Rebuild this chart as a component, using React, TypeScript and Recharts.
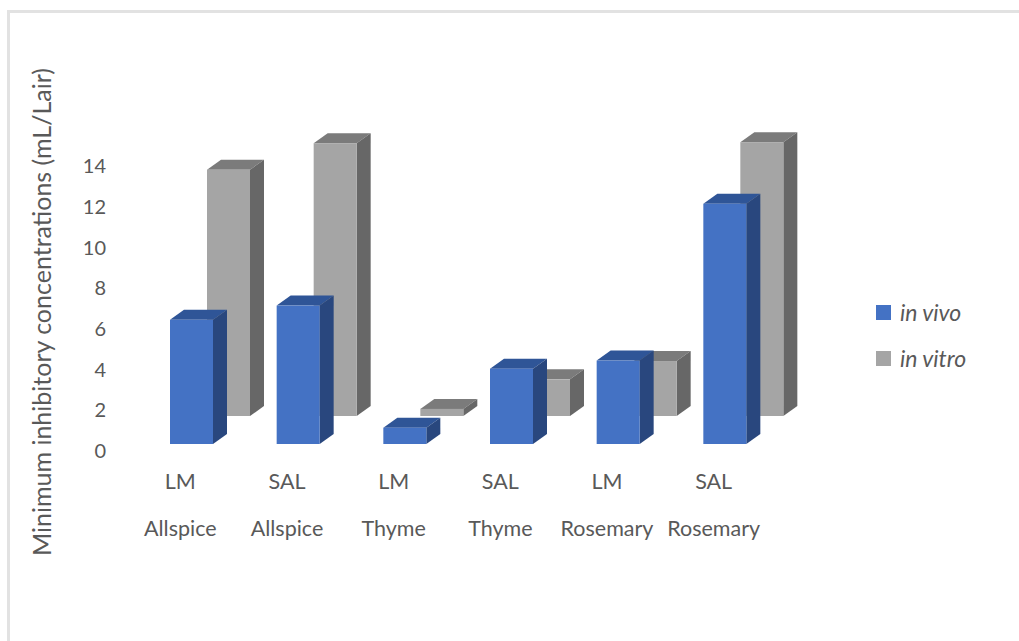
import { Bar, BarChart, XAxis, YAxis } from "recharts"

const PATHOGENS = ["LM", "SAL", "LM", "SAL", "LM", "SAL"]
const SPICES = ["Allspice", "Allspice", "Thyme", "Thyme", "Rosemary", "Rosemary"]
const IN_VIVO = [6.1, 6.8, 0.8, 3.7, 4.1, 11.8]
const IN_VITRO = [12.1, 13.4, 0.35, 1.8, 2.7, 13.45]
const Y_TICKS = [0, 2, 4, 6, 8, 10, 12, 14]

const FONT = "Lato, sans-serif"
const TEXT = "#595959"

const SERIES = [
  { name: "in vivo", front: "#4472c4", top: "#2f5597", side: "#29477e" },
  { name: "in vitro", front: "#a5a5a5", top: "#7b7b7b", side: "#676767" },
]

const data = SPICES.map((spice, i) => ({
  name: `${PATHOGENS[i]} ${spice}`,
  vivo: IN_VIVO[i],
  vitro: IN_VITRO[i],
}))

// extruded bar: front face plus top and right faces
function Prism({ x, y, width, height, colors, shiftX = 0, shiftY = 0 }: any) {
  const depthX = 14
  const depthY = 10
  const l = x + shiftX
  const r = l + width
  const t = y + shiftY
  const b = t + height
  return (
    <g>
      <polygon
        points={`${l},${t} ${r},${t} ${r + depthX},${t - depthY} ${l + depthX},${t - depthY}`}
        fill={colors.top}
      />
      <polygon
        points={`${r},${t} ${r + depthX},${t - depthY} ${r + depthX},${b - depthY} ${r},${b}`}
        fill={colors.side}
      />
      <rect x={l} y={t} width={width} height={height} fill={colors.front} />
    </g>
  )
}

function CategoryTick({ x, y, payload }: any) {
  const i = payload.index
  return (
    <g fontFamily={FONT} fontSize={21.5} fill={TEXT} textAnchor="middle">
      <text x={x - 11} y={y + 37}>{PATHOGENS[i]}</text>
      <text x={x - 11} y={y + 84}>{SPICES[i]}</text>
    </g>
  )
}

function AxisTitle() {
  return (
    <text
      transform="translate(51 312) rotate(-90)"
      textAnchor="middle"
      fontFamily={FONT}
      fontSize={25}
      fill={TEXT}
    >
      Minimum inhibitory concentrations (mL/Lair)
    </text>
  )
}

function SeriesKey() {
  return (
    <div
      style={{
        position: "absolute",
        left: 876,
        top: 289,
        fontFamily: FONT,
        fontStyle: "italic",
        fontSize: 23,
        color: TEXT,
      }}
    >
      {SERIES.map((s) => (
        <div key={s.name} style={{ display: "flex", alignItems: "center", height: 46 }}>
          <span style={{ width: 15, height: 15, marginRight: 9, background: s.front }} />
          {s.name}
        </div>
      ))}
    </div>
  )
}

export default function App() {
  return (
    <div
      style={{
        position: "absolute",
        left: 0,
        top: 0,
        width: 1019,
        height: 641,
        overflow: "hidden",
        background: "#fff",
      }}
    >
      <div
        style={{
          position: "absolute",
          left: 7,
          top: 10,
          right: -4,
          bottom: -4,
          borderLeft: "3px solid #e2e2e2",
          borderTop: "3px solid #e2e2e2",
        }}
      />
      <BarChart
        width={1019}
        height={641}
        data={data}
        margin={{ top: 159, right: 241, bottom: 0, left: 0 }}
        barSize={43}
        barGap={-43}
        style={{ position: "absolute", left: 0, top: 0 }}
      >
        <XAxis
          dataKey="name"
          height={197}
          axisLine={false}
          tickLine={false}
          tick={<CategoryTick />}
          interval={0}
        />
        <YAxis
          width={138}
          domain={[0, 14]}
          ticks={Y_TICKS}
          axisLine={false}
          tickLine={false}
          tickMargin={26}
          tick={{ fill: TEXT, fontFamily: FONT, fontSize: 20, dy: 7 }}
          label={{ content: <AxisTitle /> }}
        />
        {/* rear row first so the front row overlaps it */}
        <Bar
          dataKey="vitro"
          isAnimationActive={false}
          shape={(p: any) => <Prism {...p} colors={SERIES[1]} shiftX={37} shiftY={-28} />}
        />
        <Bar
          dataKey="vivo"
          isAnimationActive={false}
          shape={(p: any) => <Prism {...p} colors={SERIES[0]} />}
        />
      </BarChart>
      <SeriesKey />
    </div>
  )
}
